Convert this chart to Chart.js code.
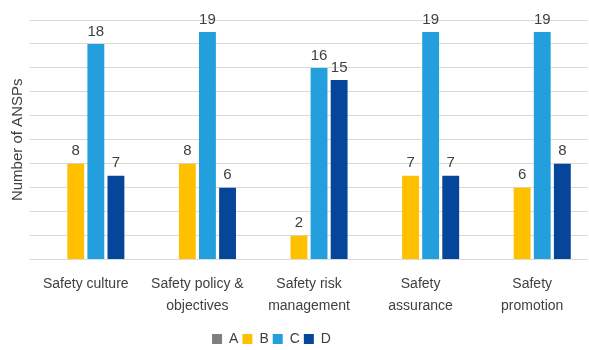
<!DOCTYPE html>
<html>
<head>
<meta charset="utf-8">
<script src="https://cdn.jsdelivr.net/npm/chart.js@4/dist/chart.umd.min.js"></script>
<style>
  html, body { margin: 0; padding: 0; background: #fff; }
  #wrap { width: 589px; height: 350px; }
</style>
</head>
<body>
<div id="wrap"><canvas id="chart" width="589" height="350"></canvas></div>
<script>
const categories = [
    "Safety culture",
    ["Safety policy &", "objectives"],
    ["Safety risk", "management"],
    ["Safety", "assurance"],
    ["Safety", "promotion"]
];
const seriesA = [0, 0, 0, 0, 0];
const seriesB = [8, 8, 2, 7, 6];
const seriesC = [18, 19, 16, 19, 19];
const seriesD = [7, 6, 15, 7, 8];

const fontFamily = "'Liberation Sans', 'DejaVu Sans', sans-serif";

// draw the value above each bar (zeros are skipped)
const valueLabels = {
    id: "valueLabels",
    afterDatasetsDraw(chart) {
        const ctx = chart.ctx;
        ctx.save();
        ctx.font = "15px " + fontFamily;
        ctx.fillStyle = "#404040";
        ctx.textAlign = "center";
        ctx.textBaseline = "bottom";
        chart.data.datasets.forEach((ds, i) => {
            const meta = chart.getDatasetMeta(i);
            meta.data.forEach((bar, j) => {
                const v = ds.data[j];
                if (!v) return;
                ctx.fillText(String(v), bar.x, bar.y - 5);
            });
        });
        ctx.restore();
    }
};

// the original legend sits a bit left of centre and lower
const legendShift = {
    id: "legendShift",
    afterLayout(chart) {
        const lg = chart.legend;
        lg.left -= 27; lg.right -= 27;
        lg.top += 5; lg.bottom += 5;
    }
};

new Chart(document.getElementById("chart"), {
    type: "bar",
    data: {
        labels: categories,
        datasets: [
            { label: "A", data: seriesA, backgroundColor: "#7f7f7f" },
            { label: "B", data: seriesB, backgroundColor: "#ffc000" },
            { label: "C", data: seriesC, backgroundColor: "#229fdc" },
            { label: "D", data: seriesD, backgroundColor: "#05469a" }
        ]
    },
    options: {
        responsive: false,
        animation: false,
        layout: { padding: { top: 20, right: 1, left: 9, bottom: -1 } },
        datasets: {
            bar: { categoryPercentage: 0.72, barPercentage: 0.84 }
        },
        plugins: {
            legend: {
                position: "bottom",
                labels: {
                    boxWidth: 10,
                    boxHeight: 10,
                    padding: 4,
                    color: "#404040",
                    font: { size: 14, family: fontFamily }
                }
            },
            tooltip: { enabled: false }
        },
        scales: {
            x: {
                grid: { display: false },
                border: { display: false },
                ticks: {
                    color: "#404040",
                    font: { size: 14, family: fontFamily, lineHeight: 1.55 },
                    maxRotation: 0,
                    autoSkip: false,
                    padding: 6
                }
            },
            y: {
                min: 0,
                max: 20,
                ticks: { display: false, stepSize: 2 },
                grid: { color: "#d9d9d9", lineWidth: 1, drawTicks: false },
                border: { display: false },
                title: {
                    display: true,
                    text: "Number of ANSPs",
                    color: "#404040",
                    font: { size: 15, family: fontFamily },
                    padding: { top: 0, bottom: 3 }
                }
            }
        }
    },
    plugins: [valueLabels, legendShift]
});
</script>
</body>
</html>
